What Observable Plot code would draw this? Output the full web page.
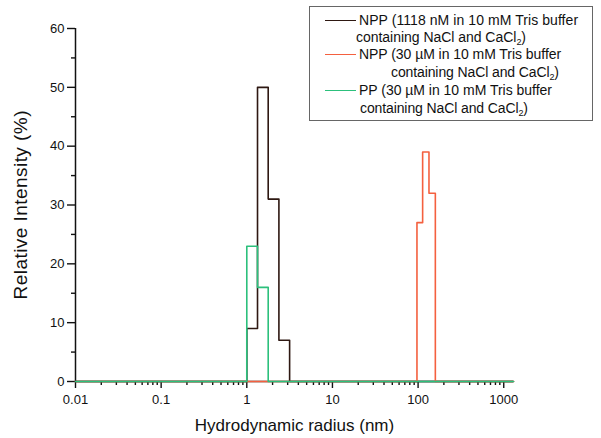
<!DOCTYPE html>
<html><head><meta charset="utf-8">
<script src="https://cdn.jsdelivr.net/npm/d3@7"></script>
<script src="https://cdn.jsdelivr.net/npm/@observablehq/plot@0.6"></script>
<style>
body{margin:0;background:#fff;font-family:"Liberation Sans",Arial,sans-serif;}
#wrap{position:relative;width:601px;height:438px;}
#legend{position:absolute;left:309px;top:6px;width:284px;height:115px;border:1.5px solid #666;box-sizing:border-box;font-size:14px;color:#111;font-family:"Liberation Sans",Arial,sans-serif;}
#legend .ln{position:absolute;height:0;border-top:1.5px solid;width:31px;left:15px;}
#legend .tx{position:absolute;white-space:nowrap;line-height:16px;}
#legend sub{font-size:9px;vertical-align:-3px;line-height:0;}
</style></head>
<body><div id="wrap"></div>
<script>
// Data
const seriesNames = ["NPP 1118 nM", "NPP 30 µM", "PP 30 µM"];
const seriesColors = ["#2e1812", "#f4603f", "#2cc07c"];
const nppLowEdges = [1, 1.334, 1.778, 2.371, 3.162];
const nppLowValues = [9, 50, 31, 7];
const nppHighEdges = [97, 113, 134, 159];
const nppHighValues = [27, 39, 32];
const ppEdges = [1, 1.334, 1.778];
const ppValues = [23, 16];
const xTicks = [0.01, 0.1, 1, 10, 100, 1000];
const yTicks = [0, 10, 20, 30, 40, 50, 60];
const yMinorTicks = [5, 15, 25, 35, 45, 55];
const xMin = 0.01, xMax = 1300;
const xMinorTicks = d3.range(-2, 4).flatMap(e => d3.range(2, 10).map(m => +(m * 10 ** e).toPrecision(3))).filter(v => v <= xMax);

function stepPoints(name, edges, values) {
  const pts = [{series: name, x: xMin, y: 0}];
  edges.forEach((e, i) => pts.push({series: name, x: e, y: i < values.length ? values[i] : 0}));
  pts.push({series: name, x: xMax, y: 0});
  return pts;
}
const data = [
  ...stepPoints(seriesNames[0], nppLowEdges, nppLowValues),
  ...stepPoints(seriesNames[1], nppHighEdges, nppHighValues),
  ...stepPoints(seriesNames[2], ppEdges, ppValues)
];

const font = '"Liberation Sans", Arial, sans-serif';
const chart = Plot.plot({
  width: 601, height: 438,
  marginLeft: 75, marginRight: 88, marginTop: 28, marginBottom: 57,
  x: {type: "log", domain: [xMin, xMax]},
  y: {domain: [0, 60]},
  color: {domain: seriesNames, range: seriesColors},
  style: {fontFamily: font, fontSize: "13px", color: "#111", background: "transparent"},
  marks: [
    Plot.axisX(xTicks, {tickSize: 7, tickPadding: 6, tickFormat: d => String(d), label: null, fontSize: 13, strokeWidth: 1.4}),
    Plot.axisX(xMinorTicks, {tickSize: 4, tickFormat: () => "", label: null, strokeWidth: 1.4}),
    Plot.axisY(yTicks, {tickSize: 8, tickPadding: 3, label: null, fontSize: 13, strokeWidth: 1.4}),
    Plot.axisY(yMinorTicks, {tickSize: 4, tickFormat: () => "", label: null, strokeWidth: 1.4}),
    Plot.ruleY([0], {stroke: "#111", strokeWidth: 1.5}),
    Plot.ruleX([xMin], {stroke: "#111", strokeWidth: 1.5}),
    Plot.line(data, {x: "x", y: "y", z: "series", stroke: "series", curve: "step-after", strokeWidth: 1.6}),
    Plot.text(["Hydrodynamic radius (nm)"], {frameAnchor: "bottom", textAnchor: "middle", lineAnchor: "middle", dy: 44, fontSize: 17, fill: "#111"}),
    Plot.text(["Relative Intensity (%)"], {frameAnchor: "left", textAnchor: "middle", lineAnchor: "middle", dx: -55, rotate: -90, fontSize: 19, fill: "#111"})
  ]
});
const wrap = document.getElementById("wrap");
wrap.appendChild(chart);
// stretch the y label to the reference length
chart.querySelectorAll("text").forEach(t => {
  if (t.textContent.trim() === "Relative Intensity (%)") {
    t.setAttribute("textLength", "189");
    t.setAttribute("lengthAdjust", "spacing");
  }
});

// Legend
const legendRows = [
  {color: seriesColors[0], line: 13, a: ["NPP (1118 nM in 10 mM Tris buffer", 49, 5, 219], b: ["containing NaCl and CaCl<sub>2</sub>)", 46, 22, 170]},
  {color: seriesColors[1], line: 47, a: ["NPP (30 µM in 10 mM Tris buffer", 49, 39, 202], b: ["containing NaCl and CaCl<sub>2</sub>)", 81, 57, 168]},
  {color: seriesColors[2], line: 83, a: ["PP (30 µM in 10 mM Tris buffer", 49, 75, 193], b: ["containing NaCl and CaCl<sub>2</sub>)", 50, 93, 168]}
];
const lg = document.createElement("div");
lg.id = "legend";
wrap.appendChild(lg);
for (const r of legendRows) {
  const ln = document.createElement("div");
  ln.className = "ln"; ln.style.top = r.line + "px"; ln.style.borderColor = r.color;
  lg.appendChild(ln);
  for (const [t, x, y, w] of [r.a, r.b]) {
    const d = document.createElement("div");
    d.className = "tx"; d.innerHTML = t; d.style.left = x + "px"; d.style.top = y + "px";
    lg.appendChild(d);
    const measured = d.getBoundingClientRect().width;
    const n = d.textContent.length;
    d.style.letterSpacing = ((w - measured) / n).toFixed(2) + "px";
  }
}
</script></body></html>
